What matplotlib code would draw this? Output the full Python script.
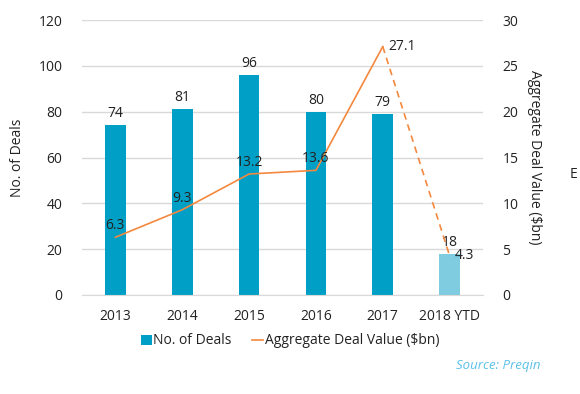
import matplotlib
matplotlib.use("Agg")
import matplotlib.pyplot as plt
from matplotlib.lines import Line2D
from matplotlib.patches import Patch

plt.rcParams['font.family'] = ['Open Sans', 'DejaVu Sans']

categories = ["2013", "2014", "2015", "2016", "2017", "2018 YTD"]
deals = [74, 81, 96, 80, 79, 18]
value = [6.3, 9.3, 13.2, 13.6, 27.1, 4.3]

bar_color = "#00A0C6"
bar_light = "#7FCCE0"
line_color = "#F4883E"
text_color = "#222222"
fs = 10

fig = plt.figure(figsize=(5.8, 3.94), dpi=100)
ax = fig.add_axes([82/580, 1-295/394, 401/580, 275/394])
ax2 = ax.twinx()

x = list(range(len(categories)))
colors = [bar_color]*5 + [bar_light]
ax.bar(x, deals, width=0.31, color=colors, zorder=2)
ax.set_xlim(-0.5, 5.5)
ax.set_ylim(0, 120)
ax.set_yticks(range(0, 121, 20))
ax.grid(axis='y', color='#D9D9D9', linewidth=1, zorder=0)
ax.set_axisbelow(True)
for s in ['top', 'right', 'left']:
    ax.spines[s].set_visible(False)
ax.spines['bottom'].set_color('#D9D9D9')
ax.tick_params(axis='both', length=0, labelsize=fs, colors=text_color, pad=10)
ax.tick_params(axis='y', pad=14)
ax.set_xticks(x)
ax.set_xticklabels(categories)
ax.set_ylabel("No. of Deals", fontsize=fs, color=text_color, labelpad=10)

for xi, d in zip(x, deals):
    ax.annotate(str(d), (xi, d), xytext=(0, 3), textcoords='offset points',
                ha='center', va='bottom', fontsize=fs, color=text_color)

ax2.set_ylim(0, 30)
ax2.set_yticks(range(0, 31, 5))
for s in ['top', 'right', 'left', 'bottom']:
    ax2.spines[s].set_visible(False)
ax2.tick_params(axis='y', length=0, labelsize=fs, colors=text_color, pad=14)
ax2.set_ylabel("Aggregate Deal Value ($bn)", fontsize=fs, color=text_color,
               rotation=-90, labelpad=17)

ax2.plot(x[:5], value[:5], color=line_color, linewidth=1.2, zorder=3)
ax2.plot(x[4:], value[4:], color=line_color, linewidth=1.2, linestyle=(0, (4, 3)), zorder=3)

for i, v in enumerate(value):
    if i in (4, 5):
        ax2.annotate(f"{v}", (i, v), xytext=(4, 0), textcoords='offset points',
                     ha='left', va='center', fontsize=fs, color=text_color)
    else:
        ax2.annotate(f"{v}", (i, v), xytext=(0, 3), textcoords='offset points',
                     ha='center', va='bottom', fontsize=fs, color=text_color)

handles = [Patch(facecolor=bar_color, edgecolor='none'),
           Line2D([0], [0], color=line_color, linewidth=1.2)]
fig.legend(handles, ["No. of Deals", "Aggregate Deal Value ($bn)"],
           loc='center', bbox_to_anchor=(290/580, 1-341/394), ncol=2, frameon=False,
           fontsize=fs, handlelength=0.8, handletextpad=0.1, columnspacing=1.5,
           labelcolor=text_color)

fig.text(540/580, 1-366/394, "Source: Preqin", ha='right', va='center',
         fontsize=9.5, style='italic', color="#5BC0E8")
fig.text(570/580, 1-175/394, "E", ha='left', va='center', fontsize=fs, color=text_color)

fig.savefig("out.png", dpi=100)
